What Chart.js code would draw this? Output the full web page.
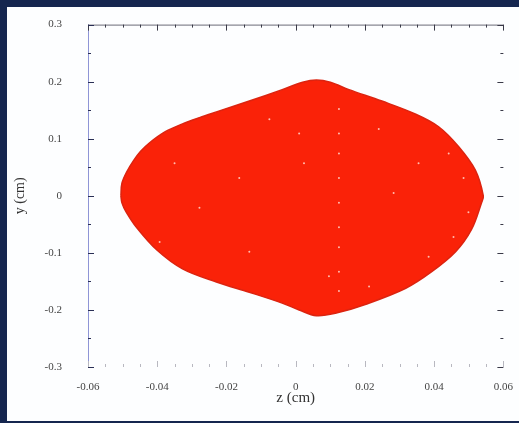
<!DOCTYPE html>
<html>
<head>
<meta charset="utf-8">
<script src="https://cdn.jsdelivr.net/npm/chart.js"></script>
<style>
  html, body { margin: 0; padding: 0; }
  body { width: 519px; height: 423px; background: #15264f; position: relative; overflow: hidden; }
  .panel { position: absolute; left: 7px; top: 7px; width: 512px; height: 414px; background: #fdfeff; }
  #c { position: absolute; left: 0; top: 0; }
</style>
</head>
<body>
<div class="panel"></div>
<canvas id="c" width="519" height="423"></canvas>
<script>
// outline of the particle cloud (z, y in cm)
const zOutline = [-0.0505, -0.0502, -0.0488, -0.0468, -0.0448, -0.0422, -0.0378, -0.0327, -0.0278,
  -0.0229, -0.0134, -0.0039, 0.0020, 0.0060, 0.0100, 0.0154, 0.0249, 0.0347, 0.0413,
  0.0471, 0.0519, 0.0542, 0.0537, 0.0508, 0.0462, 0.0393, 0.0318, 0.0203, 0.0120,
  0.0060, 0.0010, -0.0039, -0.0134, -0.0229, -0.0327, -0.0401, -0.0459, -0.0490,
  -0.0502, -0.0505];
const yOutline = [0.000, 0.022, 0.042, 0.062, 0.078, 0.093, 0.112, 0.126, 0.137,
  0.147, 0.166, 0.186, 0.199, 0.203, 0.199, 0.186, 0.166, 0.143, 0.121,
  0.086, 0.045, 0.000, -0.012, -0.059, -0.098, -0.133, -0.162, -0.190, -0.205,
  -0.210, -0.200, -0.188, -0.169, -0.151, -0.128, -0.095, -0.056, -0.028,
  -0.012, 0.000];

// a few of the empty specks inside the cloud
const zSpecks = [0.0125, 0.0125, 0.0125, 0.0125, 0.0125, 0.0125, 0.0125, 0.0125, 0.0125,
  0.0442, 0.0485, 0.0499, 0.0456, 0.0384, 0.0283, 0.0355, 0.024, 0.001, 0.0024,
  -0.0076, -0.0163, -0.0278, -0.035, -0.0393, -0.0134, 0.0096, 0.0212];
const ySpecks = [0.152, 0.109, 0.074, 0.031, -0.012, -0.055, -0.090, -0.133, -0.167,
  0.074, 0.031, -0.029, -0.072, -0.107, 0.005, 0.057, 0.117, 0.109, 0.057,
  0.134, 0.031, -0.021, 0.057, -0.081, -0.098, -0.141, -0.159];

const xTicks = [-0.06, -0.04, -0.02, 0, 0.02, 0.04, 0.06];
const yTicks = [-0.3, -0.2, -0.1, 0, 0.1, 0.2, 0.3];

const serif = "'Liberation Serif', 'DejaVu Serif', serif";

function fmt(v, d) {
  if (Math.abs(v) < 1e-9) return '0';
  return v.toFixed(d);
}

// tick marks pointing inward on all four sides, plus the two visible frame lines
const framePlugin = {
  id: 'frame',
  afterDatasetsDraw(chart) {
    const { ctx, chartArea: a } = chart;
    const xs = chart.scales.x, ys = chart.scales.y;
    ctx.save();
    ctx.lineWidth = 1;

    ctx.strokeStyle = '#6a6a78';
    ctx.beginPath();
    ctx.moveTo(a.left, a.top + 0.5);
    ctx.lineTo(a.right, a.top + 0.5);
    ctx.stroke();
    ctx.strokeStyle = '#8f95d6';
    ctx.beginPath();
    ctx.moveTo(a.left + 0.5, a.top);
    ctx.lineTo(a.left + 0.5, a.bottom);
    ctx.stroke();

    const xStep = 0.005, yStep = 0.05;
    for (let i = 0; i <= 24; i++) {
      const v = -0.06 + i * xStep;
      const px = Math.round(xs.getPixelForValue(v)) + 0.5;
      const len = i % 4 === 0 ? 6 : 3;
      ctx.strokeStyle = '#3a3a48';
      ctx.beginPath(); ctx.moveTo(px, a.top); ctx.lineTo(px, a.top + len); ctx.stroke();
      ctx.strokeStyle = '#b8b8c0';
      ctx.beginPath(); ctx.moveTo(px, a.bottom); ctx.lineTo(px, a.bottom - len); ctx.stroke();
    }
    for (let i = 0; i <= 12; i++) {
      const v = -0.3 + i * yStep;
      const py = Math.round(ys.getPixelForValue(v)) + 0.5;
      const len = i % 2 === 0 ? 6 : 3;
      ctx.strokeStyle = '#2a2f55';
      ctx.beginPath(); ctx.moveTo(a.left, py); ctx.lineTo(a.left + len, py); ctx.stroke();
      ctx.strokeStyle = '#3a3a48';
      ctx.beginPath(); ctx.moveTo(a.right, py); ctx.lineTo(a.right - len, py); ctx.stroke();
    }
    ctx.restore();
  }
};

new Chart(document.getElementById('c'), {
  type: 'scatter',
  data: {
    datasets: [
      {
        data: zOutline.map((z, i) => ({ x: z, y: yOutline[i] })),
        showLine: true,
        fill: 'shape',
        tension: 0.35,
        backgroundColor: '#fa2208',
        borderColor: '#dc2410',
        borderWidth: 1.5,
        pointRadius: 0,
        order: 2,
      },
      {
        data: zSpecks.map((z, i) => ({ x: z, y: ySpecks[i] })),
        backgroundColor: 'rgba(255,215,205,0.85)',
        borderWidth: 0,
        pointRadius: 1,
        order: 1,
      },
    ],
  },
  options: {
    responsive: false,
    animation: false,
    layout: { padding: { left: 0, top: 19, right: 14, bottom: 0 } },
    plugins: { legend: { display: false }, tooltip: { enabled: false } },
    scales: {
      x: {
        type: 'linear',
        min: -0.06,
        max: 0.06,
        afterBuildTicks: (s) => { s.ticks = xTicks.map((v) => ({ value: v })); },
        afterFit: (s) => { s.height = 56; },
        grid: { display: false },
        border: { display: false },
        ticks: {
          callback: (v) => fmt(v, 2),
          font: { family: serif, size: 11 },
          color: '#444',
          padding: 6,
          maxRotation: 0,
        },
        title: {
          display: true,
          text: 'z (cm)',
          font: { family: serif, size: 15 },
          color: '#333',
          padding: { top: 0, bottom: 16 },
        },
      },
      y: {
        type: 'linear',
        min: -0.3,
        max: 0.3,
        afterBuildTicks: (s) => { s.ticks = yTicks.map((v) => ({ value: v })); },
        afterFit: (s) => { s.width = 88; },
        grid: { display: false },
        border: { display: false },
        ticks: {
          callback: (v) => fmt(v, 1),
          font: { family: serif, size: 11 },
          color: '#444',
          padding: 18,
        },
        title: {
          display: true,
          text: 'y (cm)',
          font: { family: serif, size: 14 },
          color: '#333',
          padding: { top: 12, bottom: 0 },
        },
      },
    },
  },
  plugins: [framePlugin],
});
</script>
</body>
</html>
